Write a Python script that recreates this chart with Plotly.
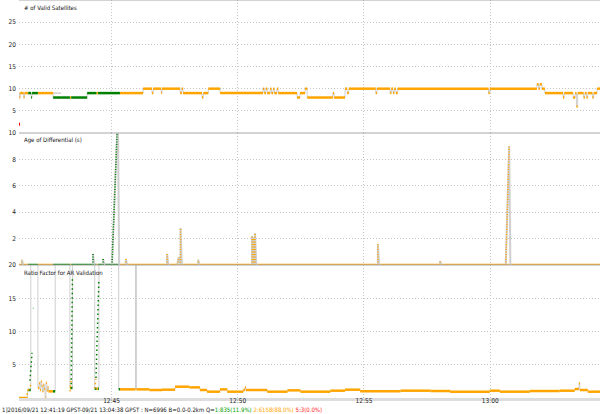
import plotly.graph_objects as go
from plotly.subplots import make_subplots
from datetime import datetime, timedelta

DAY = "2016-09-21 "
T_START = "12:41:19"
T_END = "13:04:38"
X_RANGE = ["12:41:20", "13:04:21"]
X_TICKS = ["12:45:00", "12:50:00", "12:55:00", "13:00:00"]
X_TICK_TEXT = ["12:45", "12:50", "12:55", "13:00"]

# Solution quality periods (start time, Q): 1 = fix, 2 = float
Q_T = ["12:41:19", "12:41:42", "12:42:05", "12:42:41", "12:43:21", "12:43:24",
       "12:44:24", "12:44:28", "12:45:20"]
Q_V = [2, 1, 2, 1, 2, 1, 2, 1, 2]

# single solutions (Q=5)
SINGLE_T = ["12:41:19"]
SINGLE_SAT = [2]

# Number of valid satellites (step series)
SAT_T = ["12:41:19", "12:41:21", "12:41:23", "12:41:31", "12:41:33", "12:41:49", "12:41:51",
         "12:43:00", "12:42:41", "12:44:02", "12:46:15", "12:46:36", "12:46:39", "12:46:58",
         "12:47:00", "12:47:43", "12:47:47", "12:47:50", "12:48:35", "12:48:38", "12:48:50",
         "12:49:18", "12:51:00", "12:51:03", "12:51:07", "12:51:10", "12:51:17", "12:51:20",
         "12:51:24", "12:51:27", "12:51:33", "12:51:36", "12:52:21", "12:52:28", "12:52:40",
         "12:52:45", "12:53:46", "12:53:49", "12:54:15", "12:54:20", "12:54:24", "12:55:28",
         "12:55:31", "12:56:02", "12:56:05", "12:56:09", "12:56:12", "12:56:16", "12:56:20",
         "12:59:56", "12:59:59", "13:01:51", "13:01:55", "13:01:58", "13:02:03", "13:02:10",
         "13:02:53", "13:02:56", "13:03:17", "13:03:22", "13:03:25", "13:03:28", "13:03:42",
         "13:03:45", "13:03:49", "13:03:52", "13:04:03", "13:04:06", "13:04:14"]
SAT_V = [9, 8, 9, 8, 9, 8, 9,
         9, 8, 9, 10, 9, 10, 9,
         10, 9, 10, 9, 8, 9, 10,
         9, 10, 9, 10, 9, 10, 9,
         10, 9, 10, 9, 8, 9, 10,
         8, 9, 8, 10, 9, 10, 9,
         10, 9, 10, 9, 10, 9, 10,
         9, 10, 11, 10, 11, 10, 9,
         8, 9, 8, 9, 6, 9, 8,
         9, 8, 9, 8, 9, 10]

# Age of differential: baseline 0, with spikes (start, end, peak)
AGE_SPK_T0 = ["12:41:27", "12:44:16", "12:44:40", "12:45:01", "12:45:34", "12:47:12",
              "12:47:36", "12:47:44", "12:48:26", "12:50:34", "12:50:38", "12:50:41",
              "12:55:33", "12:58:01", "13:00:37"]
AGE_SPK_T1 = ["12:41:27", "12:44:16", "12:44:40", "12:45:15", "12:45:34", "12:47:12",
              "12:47:40", "12:47:44", "12:48:26", "12:50:34", "12:50:38", "12:50:41",
              "12:55:33", "12:58:01", "13:00:45"]
AGE_SPK_TOP = [0.4, 0.85, 0.45, 11.5, 0.45, 0.85, 0.6, 2.8, 0.4, 2.2, 2.1, 2.4, 1.6, 0.3, 9.0]
AGE_SPK_Q = [2, 1, 1, 1, 2, 2, 2, 2, 2, 2, 2, 2, 2, 2, 2]

# AR ratio factor (step series; 30 = above the axis)
RAT_T = ["12:41:19", "12:41:40", "12:41:48", "12:42:05", "12:42:08", "12:42:10", "12:42:12",
         "12:42:14", "12:42:16", "12:42:18", "12:42:20", "12:42:22", "12:42:24", "12:42:26",
         "12:42:28", "12:42:30", "12:42:46", "12:43:21", "12:43:27", "12:44:20", "12:44:30",
         "12:45:17", "12:45:57", "12:45:59", "12:46:30", "12:47:00", "12:47:31", "12:48:05",
         "12:48:30", "12:48:47", "12:49:18", "12:49:35", "12:50:13", "12:50:17", "12:50:19",
         "12:51:10", "12:51:58", "12:52:29", "12:53:40", "12:54:15", "12:54:51", "12:56:27",
         "12:57:38", "12:58:25", "12:59:59", "13:00:23", "13:01:34", "13:02:45", "13:03:21",
         "13:03:31", "13:03:33", "13:03:52"]
RAT_V = [0, 1.2, 30, 1.5, 2.2, 1.2, 2.5,
         1.8, 1.0, 2.0, 1.4, 0, 2.3, 1.1,
         1.6, 1.0, 30, 1.5, 30, 1.4, 30,
         1.3, 30, 1.3, 1.2, 1.25, 1.7, 1.6,
         1.2, 0.95, 1.3, 0.95, 1.2, 1.6, 1.2,
         0.95, 1.15, 0.95, 1.1, 1.25, 1.0, 1.1,
         1.05, 0.95, 1.1, 0.95, 1.05, 1.1, 1.35,
         2.2, 1.2, 0.95]
# ratio point columns during fix attempts (start, end, low, high, Q)
RC_T0 = ["12:41:39", "12:41:46", "12:41:53", "12:43:21", "12:43:24", "12:44:20", "12:44:23"]
RC_T1 = ["12:41:48", "12:41:51", "12:41:53", "12:43:24", "12:43:27", "12:44:23", "12:44:30"]
RC_LO = [0.5, 2.6, 13.5, 1.0, 1.4, 1.4, 3.0]
RC_HI = [2.0, 6.8, 13.5, 2.8, 18.0, 2.9, 17.9]
RC_Q = [2, 1, 1, 2, 1, 2, 1]

TITLES = ["# of Valid Satellites", "Age of Differential (s)", "Ratio Factor for AR Validation"]
INFO = "1]2016/09/21 12:41:19 GPST-09/21 13:04:38 GPST : N=6996 B=0.0-0.2km Q="
QSTAT = [("1:835(11.9%)", "#00a000"), ("2:6158(88.0%)", "#ffa500"), ("5:3(0.0%)", "#ff2020")]

QCOL = {1: "#008000", 2: "#ffa500", 5: "#ff0000"}
GRAY = "#cfcfcf"
FONT = "Liberation Sans Narrow, DejaVu Sans Condensed, Liberation Sans, sans-serif"


def dt(s):
    return datetime.strptime(DAY + s, "%Y-%m-%d %H:%M:%S")


def q_at(t):
    q = Q_V[0]
    for qt, qv in zip(Q_T, Q_V):
        if dt(qt) <= t:
            q = qv
    return q


def step_traces(ts, vs, row, fig):
    times = [dt(t) for t in ts]
    end = dt(T_END)
    fig.add_trace(go.Scatter(x=times + [end], y=list(vs) + [vs[-1]], mode="lines",
                             line=dict(color=GRAY, width=1, shape="hv"),
                             hoverinfo="skip", showlegend=False), row=row, col=1)
    bps = sorted(set(times + [dt(q) for q in Q_T] + [end]))
    segs = {1: ([], []), 2: ([], [])}
    for a, b in zip(bps[:-1], bps[1:]):
        v = vs[0]
        for t, val in zip(times, vs):
            if t <= a:
                v = val
        q = q_at(a)
        segs[q][0].extend([a, b, None])
        segs[q][1].extend([v, v, None])
    for q in (2, 1):
        fig.add_trace(go.Scatter(x=segs[q][0], y=segs[q][1], mode="lines",
                                 line=dict(color=QCOL[q], width=2.5),
                                 hoverinfo="skip", showlegend=False), row=row, col=1)


fig = make_subplots(rows=3, cols=1, shared_xaxes=True, vertical_spacing=0,
                    row_heights=[133, 132, 133])

# Panel 1: satellites
step_traces(SAT_T, SAT_V, 1, fig)
fig.add_trace(go.Scatter(x=[dt(t) for t in SINGLE_T], y=SINGLE_SAT, mode="markers",
                         marker=dict(color=QCOL[5], size=3, symbol="square"),
                         hoverinfo="skip", showlegend=False), row=1, col=1)

# Panel 2: age
step_traces([T_START], [0], 2, fig)
gx, gy = [], []
for t0, t1, top in zip(AGE_SPK_T0, AGE_SPK_T1, AGE_SPK_TOP):
    gx += [dt(t0), dt(t1), dt(t1) + timedelta(seconds=3), None]
    gy += [0, top, 0, None]
fig.add_trace(go.Scatter(x=gx, y=gy, mode="lines", line=dict(color=GRAY, width=2),
                         hoverinfo="skip", showlegend=False), row=2, col=1)
for q in (2, 1):
    xs, ys = [], []
    for t0, t1, top, qq in zip(AGE_SPK_T0, AGE_SPK_T1, AGE_SPK_TOP, AGE_SPK_Q):
        if qq == q:
            xs += [dt(t0), dt(t1), None]
            ys += [0, top, None]
    fig.add_trace(go.Scatter(x=xs, y=ys, mode="lines",
                             line=dict(color=QCOL[q], width=1.5, dash="1px,1.5px"),
                             hoverinfo="skip", showlegend=False), row=2, col=1)

# Panel 3: ratio
step_traces(RAT_T, RAT_V, 3, fig)
for q in (2, 1):
    xs, ys = [], []
    for t0, t1, lo, hi, qq in zip(RC_T0, RC_T1, RC_LO, RC_HI, RC_Q):
        if qq == q:
            if t0 == t1 and lo == hi:
                xs += [dt(t0), dt(t0) + timedelta(seconds=1), None]
                ys += [lo, lo, None]
            else:
                xs += [dt(t0), dt(t1), None]
                ys += [lo, hi, None]
    fig.add_trace(go.Scatter(x=xs, y=ys, mode="lines",
                             line=dict(color=QCOL[q], width=1.5, dash="1.5px,3px"),
                             hoverinfo="skip", showlegend=False), row=3, col=1)

tickfont = dict(family=FONT, size=6.5, color="#222222")
for r in (1, 2, 3):
    fig.update_xaxes(type="date", range=[dt(X_RANGE[0]), dt(X_RANGE[1])],
                     tickvals=[dt(t) for t in X_TICKS], ticktext=X_TICK_TEXT,
                     showgrid=True, gridcolor="#c4c4c4", griddash="1px,2px", gridwidth=1,
                     zeroline=False, ticks="", tickfont=tickfont, automargin=False,
                     row=r, col=1)
fig.update_xaxes(showline=True, linecolor="#dddddd", linewidth=3, ticklabelstandoff=-6,
                 row=3, col=1)

YRANGES = [[0, 30], [0, 10], [0, 20]]
YTICKS = [[5, 10, 15, 20, 25, 30], [2, 4, 6, 8, 10], [5, 10, 15, 20]]
for r in (1, 2, 3):
    fig.update_yaxes(range=YRANGES[r - 1], tickvals=YTICKS[r - 1],
                     showgrid=True, gridcolor="#c4c4c4", griddash="1px,2px", gridwidth=1,
                     zeroline=False, ticks="", tickfont=tickfont, ticklabelstandoff=2,
                     automargin=False, row=r, col=1)

# panel top borders
for yp in (1.0, 265 / 398, 133 / 398):
    fig.add_shape(type="line", xref="paper", yref="paper", x0=0, x1=1, y0=yp, y1=yp,
                  line=dict(color="#a8a8a8", width=1))

anns = []
for title, ypx in zip(TITLES, [7.5, 140, 272]):
    anns.append(dict(text=title, xref="paper", yref="paper", x=3 / 581, y=(398 - ypx) / 398,
                     xanchor="left", yanchor="middle", showarrow=False,
                     font=dict(family=FONT, size=6, color="#111111")))
info = INFO + " ".join(f"<span style='color:{c}'>{s}</span>" for s, c in QSTAT)
anns.append(dict(text=info, xref="paper", yref="paper", x=-19 / 581, y=(398 - 410) / 398,
                 xanchor="left", yanchor="middle", showarrow=False,
                 font=dict(family=FONT, size=6, color="#111111")))

fig.update_layout(width=600, height=414, margin=dict(l=19, r=0, t=0, b=16),
                  paper_bgcolor="white", plot_bgcolor="white", annotations=anns,
                  showlegend=False)

fig.write_html("out.html", config={"displayModeBar": False},
               post_script="document.body.style.margin='0px';")
